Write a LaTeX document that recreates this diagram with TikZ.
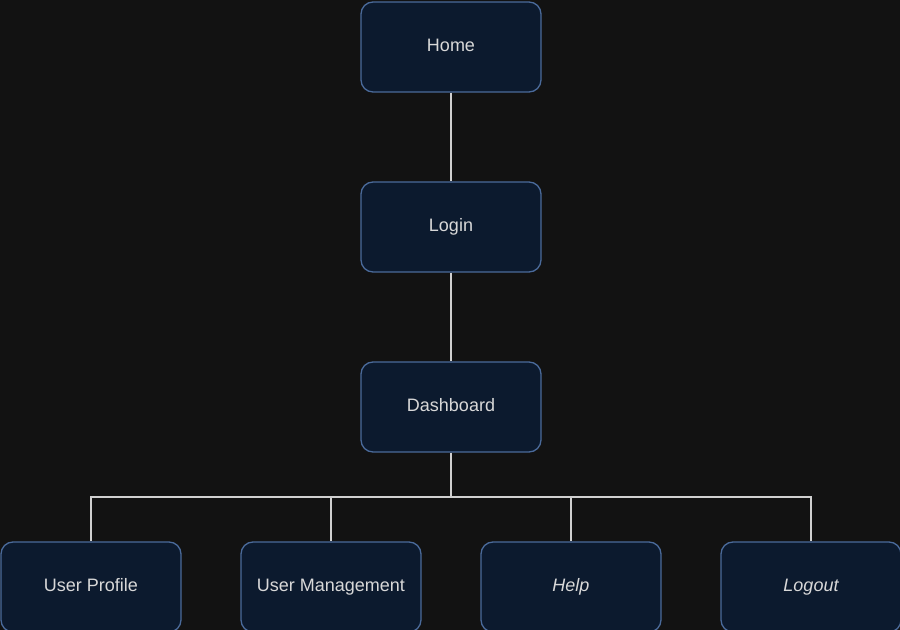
\documentclass[tikz,border=0pt]{standalone}
\usepackage{fontspec}
\setmainfont{Liberation Sans}
\usetikzlibrary{positioning}
\definecolor{bgdark}{HTML}{121212}
\definecolor{boxfill}{HTML}{0C1A2E}
\definecolor{boxline}{HTML}{4A6A9A}
\definecolor{txtgray}{HTML}{D8D8D8}
\definecolor{wiregray}{HTML}{D0D0D0}
\begin{document}
\begin{tikzpicture}[
      x=0.75pt, y=-0.75pt,
      page/.style={draw=boxline, fill=boxfill, line width=1pt, rounded corners=9pt,
        minimum width=135pt, minimum height=67.5pt, text=txtgray,
        text height=9.7pt, text depth=3pt, font=\fontsize{13.5pt}{16pt}\selectfont},
      wire/.style={draw=wiregray, line width=1pt}
    ]
    \fill[bgdark] (0,0) rectangle (900,630);
    \useasboundingbox (0,0) rectangle (900,630);
    \clip (0,0) rectangle (900,630);
    \node[page] (home) at (451,47) {Home};
    \node[page] (login) at (451,227) {Login};
    \node[page] (dash) at (451,407) {Dashboard};
    \coordinate (bus) at (451,497);
    \node[page] (profile) at (91,587) {User Profile};
    \node[page] (manage) at (331,587) {User Management};
    \node[page] (help) at (571,587) {\itshape Help};
    \node[page] (logout) at (811,587) {\itshape Logout};
    \draw[wire] (home) -- (login);
    \draw[wire] (login) -- (dash);
    \draw[wire] (dash) -- (bus);
    \foreach \child in {profile, manage, help, logout}
      \draw[wire] (bus) -| (\child);
  \end{tikzpicture}
\end{document}
